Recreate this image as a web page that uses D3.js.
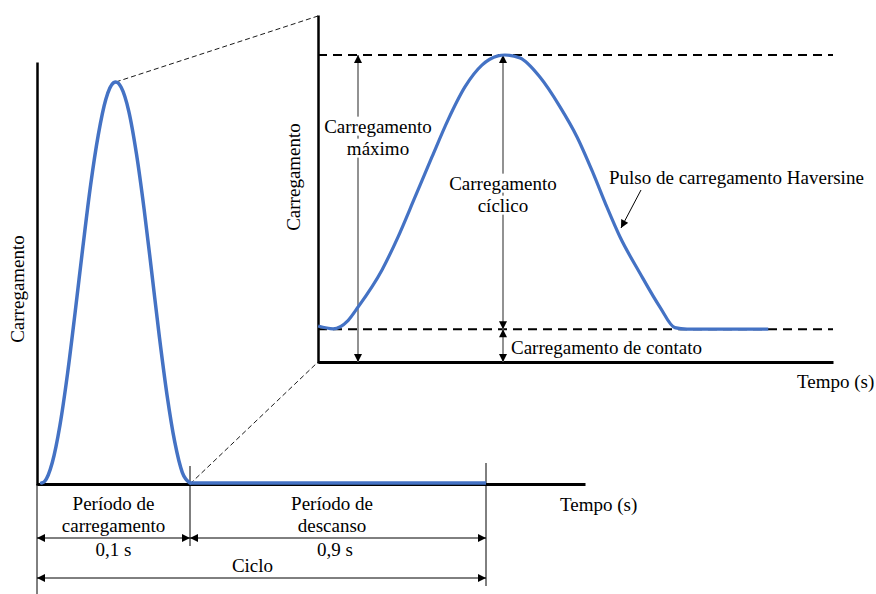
<!DOCTYPE html>
<html><head><meta charset="utf-8">
<script src="https://cdn.jsdelivr.net/npm/d3@7"></script>
<style>
html,body{margin:0;padding:0;background:#fff;}
svg{display:block;}
text{font-family:"Liberation Serif","Times New Roman",serif;}
</style></head>
<body>
<svg id="c" width="876" height="594"></svg>
<script>
// ---- data ----
// Left panel: one loading cycle (time in s, normalized load)
const leftPulseTime = [0.003,0.005,0.01,0.015,0.02,0.025,0.03,0.035,0.04,0.045,0.05,0.0515,0.055,0.06,0.065,0.07,0.075,0.08,0.085,0.09,0.095,0.1];
const leftPulseLoad = [0,0.004,0.051,0.144,0.274,0.428,0.589,0.742,0.867,0.957,0.998,1.0,0.987,0.927,0.821,0.683,0.525,0.364,0.219,0.103,0.026,0];
const restTime = [0.1, 1.0];
const restLoad = [0, 0];
const cycleMarks = [0, 0.1, 1.0];
// Right panel: zoomed Haversine pulse (time in s, normalized load)
const rightPulseTime = [-0.0037,0.0006,0.0049,0.0078,0.0147,0.0193,0.0242,0.0291,0.0337,0.0386,0.0435,0.0481,0.0501,0.0545,0.0602,0.066,0.0709,0.0755,0.0795,0.0833,0.089,0.0948,0.0991,0.1026,0.126];
const rightPulseLoad = [0.117,0.108,0.135,0.179,0.300,0.407,0.537,0.668,0.788,0.896,0.967,0.997,1.0,0.990,0.928,0.831,0.733,0.616,0.505,0.407,0.290,0.179,0.112,0.107,0.107];
const maxLoad = 1.0;
const contactLoad = 0.107;
// Labels
const axisLabelY = "Carregamento";
const axisLabelX = "Tempo (s)";
const periodLabels = [["Período de","carregamento"],["Período de","descanso"]];
const durationLabels = ["0,1 s","0,9 s"];
const cycleLabel = "Ciclo";
const maxLabel = ["Carregamento","máximo"];
const cyclicLabel = ["Carregamento","cíclico"];
const contactLabel = "Carregamento de contato";
const pulseLabel = "Pulso de carregamento Haversine";

// ---- scales ----
const blue = "#4472C4";
const svg = d3.select("#c");
const xL = d3.scaleLinear().domain([0, 0.1, 1.0]).range([37, 190, 486]);
const yL = d3.scaleLinear().domain([0, 1]).range([483, 82]);
const xR = d3.scaleLinear().domain([0, 0.1]).range([331, 678]);
const yR = d3.scaleLinear().domain([0, 1]).range([362, 55]);

// markers
const defs = svg.append("defs");
defs.append("marker").attr("id","ah").attr("viewBox","0 0 10 10").attr("refX",10).attr("refY",5)
  .attr("markerWidth",10).attr("markerHeight",8).attr("markerUnits","userSpaceOnUse").attr("orient","auto-start-reverse")
  .append("path").attr("d","M0,0L10,5L0,10Z").attr("fill","#000");

// ---- left panel axes ----
const gxL = svg.append("g").attr("transform","translate(0,484)")
  .call(d3.axisBottom(d3.scaleLinear().domain([0,1]).range([37,585])).tickValues([]).tickSizeOuter(0));
gxL.select(".domain").attr("stroke","#000").attr("stroke-width",3.2);
const gyL = svg.append("g").attr("transform","translate(37,0)")
  .call(d3.axisLeft(d3.scaleLinear().domain([0,1]).range([485,62])).tickValues([]).tickSizeOuter(0));
gyL.select(".domain").attr("stroke","#000").attr("stroke-width",2.5);

// zoom connector lines
const peakIdx = leftPulseLoad.indexOf(d3.max(leftPulseLoad));
svg.append("line").attr("x1",xL(leftPulseTime[peakIdx])).attr("y1",yL(1)).attr("x2",318).attr("y2",16)
  .attr("stroke","#000").attr("stroke-width",0.9).attr("stroke-dasharray","5,3");
svg.append("line").attr("x1",xL(0.1)).attr("y1",yL(0)+1).attr("x2",318).attr("y2",362)
  .attr("stroke","#000").attr("stroke-width",0.9).attr("stroke-dasharray","5,3");

// cycle boundary ticks
const tickSpans = [[484,594],[466,546],[463,586]];
cycleMarks.forEach((t,i)=>{
  svg.append("line").attr("x1",xL(t)).attr("x2",xL(t)).attr("y1",tickSpans[i][0]).attr("y2",tickSpans[i][1])
    .attr("stroke","#000").attr("stroke-width",1);
});

// left pulse + rest
const lineL = d3.line().x(d=>xL(d[0])).y(d=>yL(d[1])).curve(d3.curveMonotoneX);
svg.append("path").datum(restTime.map((t,i)=>[t,restLoad[i]])).attr("d",lineL)
  .attr("fill","none").attr("stroke",blue).attr("stroke-width",3.5);
svg.append("path").datum(leftPulseTime.map((t,i)=>[t,leftPulseLoad[i]])).attr("d",lineL)
  .attr("fill","none").attr("stroke",blue).attr("stroke-width",3.5).attr("stroke-linecap","round");

// bottom arrows
function hArrow(x1,x2,y){
  svg.append("line").attr("x1",x1).attr("x2",x2).attr("y1",y).attr("y2",y)
    .attr("stroke","#000").attr("stroke-width",1)
    .attr("marker-start","url(#ah)").attr("marker-end","url(#ah)");
}
hArrow(xL(0), xL(0.1), 538);
hArrow(xL(0.1), xL(1.0), 538);
hArrow(xL(0), xL(1.0), 578);

const fs = 19;
function txt(x,y,s,anchor,rot){
  const t = svg.append("text").attr("x",x).attr("y",y).attr("dy","0.35em")
    .attr("font-family","Liberation Serif, Times New Roman, serif")
    .attr("text-anchor",anchor||"middle").attr("font-size",fs).attr("fill","#000").text(s);
  if(rot) t.attr("transform",`rotate(${rot},${x},${y})`);
  return t;
}
const midL1 = (xL(0)+xL(0.1))/2, midL2 = (xL(0.1)+xL(1.0))/2;
txt(midL1,503,periodLabels[0][0]); txt(midL1,525,periodLabels[0][1]);
txt(midL2-6,503,periodLabels[1][0]); txt(midL2-6,525,periodLabels[1][1]);
txt(midL1,549,durationLabels[0]); txt(midL2-3,549,durationLabels[1]);
txt((xL(0)+xL(1.0))/2-9,565,cycleLabel);
txt(560,504,axisLabelX,"start");
txt(17,289,axisLabelY,"middle",-90);

// ---- right panel ----
const gxR = svg.append("g").attr("transform","translate(0,362)")
  .call(d3.axisBottom(d3.scaleLinear().domain([0,1]).range([318,833])).tickValues([]).tickSizeOuter(0));
gxR.select(".domain").attr("stroke","#000").attr("stroke-width",3);
const gyR = svg.append("g").attr("transform","translate(318,0)")
  .call(d3.axisLeft(d3.scaleLinear().domain([0,1]).range([363,15])).tickValues([]).tickSizeOuter(0));
gyR.select(".domain").attr("stroke","#000").attr("stroke-width",2.5);

// reference dashed lines
[maxLoad, contactLoad].forEach(v=>{
  svg.append("line").attr("x1",318).attr("x2",833).attr("y1",yR(v)).attr("y2",yR(v))
    .attr("stroke","#000").attr("stroke-width",2).attr("stroke-dasharray","9,6");
});

// vertical arrows
function vArrow(x,y1,y2){
  svg.append("line").attr("x1",x).attr("x2",x).attr("y1",y1).attr("y2",y2)
    .attr("stroke","#777").attr("stroke-width",1.6)
    .attr("marker-start","url(#ah)").attr("marker-end","url(#ah)");
}
const xMaxArrow = 358, xCyc = 503;
vArrow(xMaxArrow, yR(maxLoad), yR(0));
vArrow(xCyc, yR(maxLoad), yR(contactLoad));
vArrow(xCyc, yR(contactLoad), yR(0));

function boxedText(x,ys,lines){
  lines.forEach((s,i)=>{
    const t = txt(x,ys[i],s);
    const b = t.node().getBBox();
    svg.insert("rect", function(){return t.node();}).attr("x",b.x-1).attr("y",b.y+1).attr("width",b.width+2).attr("height",b.height-2).attr("fill","#fff");
  });
}
boxedText(378,[126,148],maxLabel);
boxedText(503,[183,205],cyclicLabel);

// right pulse (on top of label backgrounds)
const lineR = d3.line().x(d=>xR(d[0])).y(d=>yR(d[1])).curve(d3.curveMonotoneX);
svg.append("path").datum(rightPulseTime.map((t,i)=>[t,rightPulseLoad[i]])).attr("d",lineR)
  .attr("fill","none").attr("stroke",blue).attr("stroke-width",3.2);

txt(511,347,contactLabel,"start");
txt(609,177,pulseLabel,"start");
svg.append("line").attr("x1",641).attr("y1",190).attr("x2",621).attr("y2",228)
  .attr("stroke","#000").attr("stroke-width",1).attr("marker-end","url(#ah)");
txt(797,381,axisLabelX,"start");
txt(293,177,axisLabelY,"middle",-90);
</script>
</body></html>
